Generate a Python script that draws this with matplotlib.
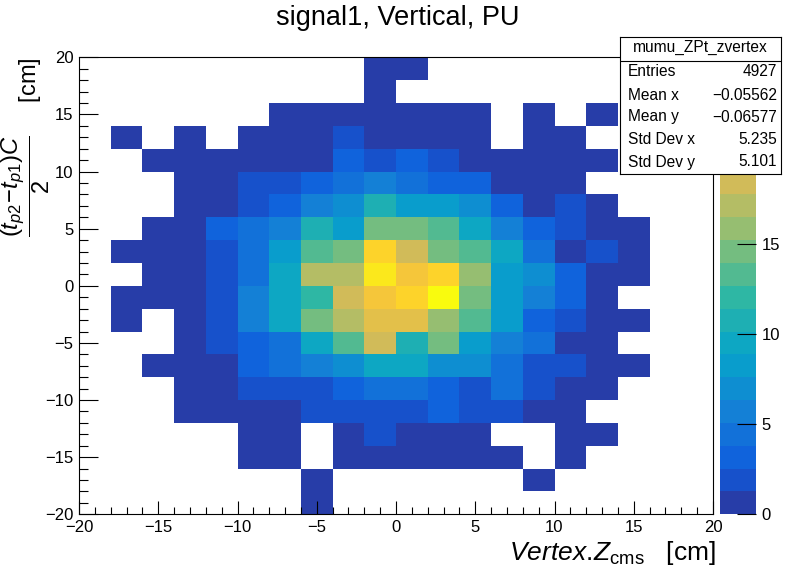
"""ROOT-style COLZ map: signal1, Vertical, PU (mumu_ZPt_zvertex)."""

import matplotlib

matplotlib.use("Agg")
import matplotlib.pyplot as plt
import numpy as np
from matplotlib.colors import BoundaryNorm, LinearSegmentedColormap, ListedColormap
from matplotlib.ticker import MultipleLocator

plt.rcParams["font.family"] = ["Liberation Sans", "DejaVu Sans"]
plt.rcParams["mathtext.fontset"] = "custom"
plt.rcParams["mathtext.rm"] = "Liberation Sans"
plt.rcParams["mathtext.it"] = "Liberation Sans:italic"

# binning: 20 x 20 bins over [-20, 20] cm
x_edges = np.arange(-20, 21, 2)
y_edges = np.arange(-20, 21, 2)

# bin contents, top row (y = 18..20) first, columns x = -20..20
counts_top_down = [
    [0, 0, 0, 0, 0, 0, 0, 0, 0, 1, 1, 0, 0, 0, 0, 0, 0, 0, 0, 0],
    [0, 0, 0, 0, 0, 0, 0, 0, 0, 1, 0, 0, 0, 0, 0, 0, 0, 0, 0, 0],
    [0, 0, 0, 0, 0, 0, 1, 1, 1, 1, 1, 1, 1, 0, 1, 0, 1, 0, 0, 0],
    [0, 1, 0, 1, 0, 1, 1, 1, 2, 1, 1, 1, 1, 0, 1, 1, 0, 0, 0, 0],
    [0, 0, 1, 1, 1, 1, 1, 1, 3, 2, 3, 2, 1, 1, 1, 1, 1, 0, 0, 0],
    [0, 0, 0, 1, 1, 2, 2, 3, 4, 6, 4, 3, 3, 1, 1, 1, 0, 0, 0, 0],
    [0, 0, 0, 1, 1, 2, 3, 6, 7, 11, 8, 8, 7, 3, 1, 2, 1, 0, 0, 0],
    [0, 0, 1, 1, 3, 4, 6, 11, 8, 14, 14, 13, 9, 6, 3, 2, 1, 1, 0, 0],
    [0, 1, 1, 1, 2, 4, 8, 13, 14, 22, 18, 14, 13, 9, 4, 1, 2, 1, 0, 0],
    [0, 0, 1, 1, 2, 4, 9, 17, 17, 23, 21, 22, 16, 8, 7, 3, 1, 1, 0, 0],
    [0, 1, 1, 1, 2, 6, 9, 12, 18, 21, 22, 25, 14, 8, 6, 3, 1, 0, 0, 0],
    [0, 1, 0, 1, 2, 6, 9, 14, 17, 20, 20, 16, 13, 8, 3, 2, 1, 1, 0, 0],
    [0, 0, 0, 1, 2, 3, 4, 9, 13, 18, 11, 14, 8, 6, 4, 1, 1, 0, 0, 0],
    [0, 0, 1, 1, 1, 3, 4, 6, 7, 9, 9, 7, 7, 4, 2, 2, 1, 1, 0, 0],
    [0, 0, 0, 1, 1, 2, 2, 2, 3, 4, 4, 3, 2, 4, 2, 1, 1, 0, 0, 0],
    [0, 0, 0, 1, 1, 1, 1, 2, 2, 2, 2, 3, 2, 2, 1, 1, 0, 0, 0, 0],
    [0, 0, 0, 0, 0, 1, 1, 0, 1, 2, 1, 1, 1, 0, 0, 1, 1, 0, 0, 0],
    [0, 0, 0, 0, 0, 1, 1, 0, 1, 1, 1, 1, 1, 1, 0, 1, 0, 0, 0, 0],
    [0, 0, 0, 0, 0, 0, 0, 1, 0, 0, 0, 0, 0, 0, 1, 0, 0, 0, 0, 0],
    [0, 0, 0, 0, 0, 0, 0, 1, 0, 0, 0, 0, 0, 0, 0, 0, 0, 0, 0, 0],
]
z_max = 25.4
n_contours = 20

stats_name = "mumu_ZPt_zvertex"
stats_labels = ["Entries", "Mean x", "Mean y", "Std Dev x", "Std Dev y"]
stats_values = ["4927", "\u22120.05562", "\u22120.06577", "5.235", "5.101"]

# ROOT kBird palette
bird_stops = np.linspace(0, 1, 9)
bird_r = [0.2082, 0.0592, 0.0780, 0.0232, 0.1802, 0.5301, 0.8186, 0.9956, 0.9764]
bird_g = [0.1664, 0.3599, 0.5041, 0.6419, 0.7178, 0.7492, 0.7328, 0.7862, 0.9832]
bird_b = [0.5293, 0.8684, 0.8385, 0.7914, 0.6425, 0.4662, 0.3499, 0.1968, 0.0539]
bird = LinearSegmentedColormap.from_list(
    "bird", list(zip(bird_stops, zip(bird_r, bird_g, bird_b))), N=255
)
band_colors = [bird(int((j + 0.99) * 255 / n_contours)) for j in range(n_contours)]
cmap = ListedColormap(band_colors)
levels = np.linspace(0, z_max, n_contours + 1)
norm = BoundaryNorm(levels, n_contours)

counts = np.array(counts_top_down[::-1], dtype=float)
masked = np.ma.masked_where(counts <= 0, counts)

W, H = 796, 572
fig = plt.figure(figsize=(W / 100, H / 100), dpi=100)
px_l, px_r, px_t, px_b = 79, 713, 57.3, 514.3
ax = fig.add_axes([px_l / W, 1 - px_b / H, (px_r - px_l) / W, (px_b - px_t) / H])
ax.pcolormesh(x_edges, y_edges, masked, cmap=cmap, norm=norm)
ax.set_xlim(-20, 20)
ax.set_ylim(-20, 20)
ax.xaxis.set_major_locator(MultipleLocator(5))
ax.xaxis.set_minor_locator(MultipleLocator(1))
ax.yaxis.set_major_locator(MultipleLocator(5))
ax.yaxis.set_minor_locator(MultipleLocator(1))
ax.tick_params(which="both", direction="in", top=False, right=False, width=0.8,
               labelsize=12, pad=4)
ax.tick_params(axis="x", which="major", length=9.4)
ax.tick_params(axis="x", which="minor", length=4.7)
ax.tick_params(axis="y", which="major", length=13.7)
ax.tick_params(axis="y", which="minor", length=6.8)
for sp in ax.spines.values():
    sp.set_linewidth(0.8)

# palette
cax = fig.add_axes([720 / W, 1 - px_b / H, 36 / W, (px_b - px_t) / H])
cb = fig.colorbar(plt.cm.ScalarMappable(norm=norm, cmap=cmap), cax=cax)
cb.outline.set_visible(False)
cb.set_ticks([0, 5, 10, 15])
cb.ax.minorticks_off()
cb.ax.tick_params(direction="in", length=13.7, width=0.8, labelsize=12, pad=4)

# texts
fig.text(0.5, 1 - 18 / H, "signal1, Vertical, PU", ha="center", va="center", fontsize=19.5)
fig.text(716 / W, 1 - 553 / H, r"$Vertex.\!Z_{\mathrm{cms}}$   [cm]",
         ha="right", va="center", fontsize=19)
fig.text(26 / W, 1 - 57 / H, r"$\dfrac{(t_{p2}\!-\!t_{p1})C}{2}$     [cm]",
         ha="center", va="top", rotation=90, fontsize=17)

# stat box
sx0, sx1, sy0, sy1 = 620, 781, 37, 174
sax = fig.add_axes([sx0 / W, 1 - sy1 / H, (sx1 - sx0) / W, (sy1 - sy0) / H])
sax.set_xlim(0, 1)
sax.set_ylim(0, 1)
sax.set_xticks([])
sax.set_yticks([])
sax.set_facecolor("white")
for sp in sax.spines.values():
    sp.set_linewidth(0.8)
box_h = sy1 - sy0
sax.axhline((sy1 - 61) / box_h, color="black", lw=0.8)
sax.text(0.5, (sy1 - 47) / box_h, stats_name, ha="center", va="center", fontsize=11.2)
row_px = [72, 95, 117, 140, 162]
for lab, val, ypx in zip(stats_labels, stats_values, row_px):
    yf = (sy1 - ypx) / box_h
    sax.text(0.05, yf, lab, ha="left", va="center", fontsize=11.2)
    sax.text(0.975, yf, val, ha="right", va="center", fontsize=11.2)

fig.savefig("out.png", dpi=100)
